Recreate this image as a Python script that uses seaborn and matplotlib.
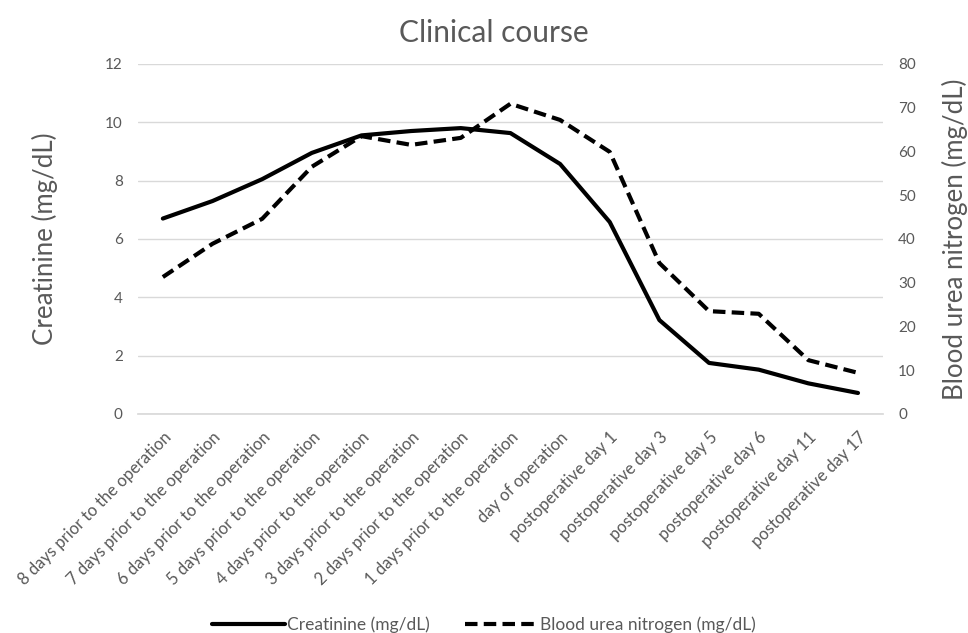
import matplotlib
matplotlib.use("Agg")
import matplotlib.pyplot as plt
import seaborn as sns
import numpy as np
import pandas as pd

categories = ["8 days prior to the operation", "7 days prior to the operation",
              "6 days prior to the operation", "5 days prior to the operation",
              "4 days prior to the operation", "3 days prior to the operation",
              "2 days prior to the operation", "1 days prior to the operation",
              "day of operation", "postoperative day 1", "postoperative day 3",
              "postoperative day 5", "postoperative day 6", "postoperative day 11",
              "postoperative day 17"]
creatinine = [6.7, 7.3, 8.05, 8.95, 9.55, 9.7, 9.8, 9.63, 8.57, 6.58, 3.22, 1.75, 1.52, 1.05, 0.72]
bun = [31.3, 38.9, 44.6, 56.5, 63.5, 61.5, 63.1, 70.9, 67.2, 59.9, 34.5, 23.5, 22.9, 12.3, 9.4]

sns.set_theme(style="white")
plt.rcParams['font.family'] = ['Lato', 'DejaVu Sans']
gray = "#595959"

df = pd.DataFrame({"idx": np.arange(len(categories)), "creat": creatinine, "bun": bun})

fig = plt.figure(figsize=(9.68, 6.33), dpi=100)
ax = fig.add_axes([0.1426, 0.346, 0.7694, 0.553])
ax2 = ax.twinx()

sns.lineplot(data=df, x="idx", y="creat", ax=ax, color="black", lw=3,
             label="Creatinine (mg/dL)", legend=False)
sns.lineplot(data=df, x="idx", y="bun", ax=ax2, color="black", lw=3,
             linestyle=(0, (3, 1.5)), label="Blood urea nitrogen (mg/dL)", legend=False)

ax.set_ylim(0, 12)
ax.set_yticks(range(0, 13, 2))
ax2.set_ylim(0, 80)
ax2.set_yticks(range(0, 81, 10))
ax.set_xlim(-0.5, len(categories) - 0.5)
ax.set_xticks(np.arange(len(categories)))
ax.set_xticklabels(categories, rotation=45, ha="right", rotation_mode="anchor",
                   fontsize=12, color=gray)
ax.set_xticks(np.arange(len(categories) + 1) - 0.5, minor=True)
ax.tick_params(axis="x", which="major", length=0, pad=11)
ax.tick_params(axis="x", which="minor", length=5, color="#d9d9d9", width=1, direction="out")
ax.tick_params(axis="y", length=0, labelsize=11, labelcolor=gray, pad=11)
ax2.tick_params(axis="y", length=0, labelsize=11, labelcolor=gray, pad=11)

ax.grid(axis="y", color="#d9d9d9", lw=1)
ax.set_axisbelow(True)
for a in (ax, ax2):
    for s in a.spines.values():
        s.set_visible(False)
ax.spines["bottom"].set_visible(True)
ax.spines["bottom"].set_color("#d9d9d9")

ax.set_xlabel("")
ax.set_ylabel("Creatinine (mg/dL)", fontsize=18.6, color=gray)
ax2.set_ylabel("Blood urea nitrogen (mg/dL)", fontsize=18.6, color=gray)
ax.yaxis.set_label_coords(-0.107, 0.5)
ax2.yaxis.set_label_coords(1.079, 0.5)
ax.set_title("Clinical course", fontsize=21.5, color=gray, pad=16, x=0.478)

h1, l1 = ax.get_legend_handles_labels()
h2, l2 = ax2.get_legend_handles_labels()
fig.legend(h1 + h2, l1 + l2, loc="lower center", bbox_to_anchor=(0.5, -0.025), ncol=2,
           frameon=False, fontsize=12.5, labelcolor=gray, handlelength=4.2, columnspacing=2,
           handletextpad=0.15)

fig.savefig("out.png", dpi=100)
